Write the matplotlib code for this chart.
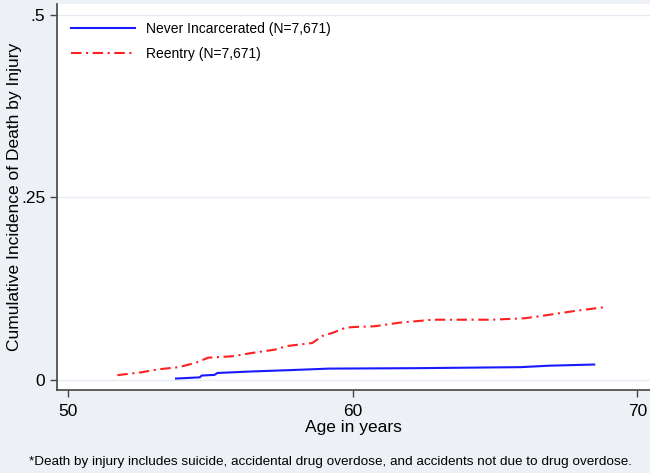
import matplotlib
matplotlib.use('Agg')
import matplotlib.pyplot as plt

plt.rcParams['font.family'] = ['Liberation Sans', 'DejaVu Sans']

# values (age in years, cumulative incidence)
reentry_age = [51.74, 52.59, 53.17, 53.9, 54.49, 54.93, 55.8, 56.39, 57.27, 57.7,
               58.58, 58.95, 59.3, 59.75, 60.04, 60.77, 61.65, 62.24, 62.8, 63.7,
               64.87, 66.04, 66.6, 67.8, 68.8]
reentry_ci = [0.006, 0.010, 0.014, 0.017, 0.023, 0.030, 0.032, 0.036, 0.041, 0.046,
              0.050, 0.060, 0.064, 0.071, 0.072, 0.073, 0.078, 0.080, 0.082, 0.082,
              0.082, 0.084, 0.087, 0.094, 0.099]
never_age = [53.8, 54.63, 54.7, 55.15, 55.25, 56.4, 57.85, 59.17, 62.24, 65.9, 66.9, 68.48]
never_ci = [0.0014, 0.003, 0.0055, 0.0064, 0.009, 0.011, 0.013, 0.015, 0.0156, 0.017,
            0.019, 0.0206]

x_ticks = [50, 60, 70]
y_ticks = [0, 0.25, 0.5]
y_ticklabels = ['0', '.25', '.5']

bg = '#edf1f6'
fig = plt.figure(figsize=(6.5, 4.73), dpi=100, facecolor=bg)
ax = fig.add_axes([0.0877, 0.1755, 0.9123, 0.815])
ax.set_facecolor('white')

ax.plot(never_age, never_ci, color='#1a1aff', lw=1.5, label='Never Incarcerated (N=7,671)')
ax.plot(reentry_age, reentry_ci, color='#ff2020', lw=1.5, dashes=(5, 2.2, 1, 2.2),
        label='Reentry (N=7,671)')

ax.set_xlim(49.62, 70.44)
ax.set_ylim(-0.0143, 0.514)
ax.set_xticks(x_ticks)
ax.set_yticks(y_ticks)
ax.set_yticklabels(y_ticklabels)
ax.grid(axis='y', color='#e6ecf3', lw=1)
ax.set_axisbelow(True)

for s in ['top', 'right']:
    ax.spines[s].set_visible(False)
for s in ['left', 'bottom']:
    ax.spines[s].set_color('#444444')
    ax.spines[s].set_linewidth(1.2)
ax.tick_params(colors='#444444', labelcolor='black', labelsize=12.5, length=5, width=1)
ax.tick_params(axis='x', pad=5)

ax.set_xlabel('Age in years', fontsize=12.5, labelpad=1)
ax.set_ylabel('Cumulative Incidence of Death by Injury', fontsize=12.5)
ax.yaxis.set_label_coords(-0.059, 0.5)

ax.legend(loc='upper left', frameon=False, fontsize=10, handlelength=4.6,
          labelspacing=0.8, bbox_to_anchor=(0.008, 0.98), borderaxespad=0.3)

fig.text(0.508, 0.023, '*Death by injury includes suicide, accidental drug overdose, '
         'and accidents not due to drug overdose.', ha='center', va='center', fontsize=9.7)

fig.savefig('out.png', dpi=100, facecolor=bg)
